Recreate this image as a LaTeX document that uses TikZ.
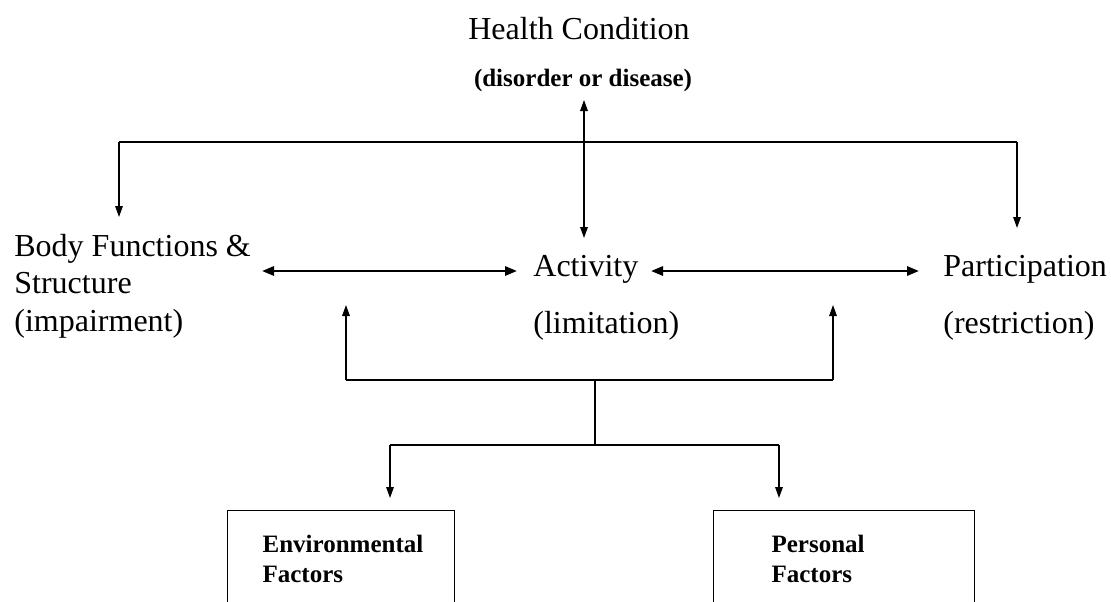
\documentclass[tikz,border=0pt]{standalone}
\usepackage{fontspec}
\setmainfont{Liberation Serif}
\usetikzlibrary{arrows.meta}
\begin{document}
\begin{tikzpicture}[x=0.5pt,y=-0.5pt,
  lbl/.style={inner sep=0pt, font=\fontsize{16}{18.5}\selectfont},
  sublbl/.style={inner sep=0pt, font=\fontsize{12.5}{15}\selectfont\bfseries},
  factorbox/.style={draw, line width=0.6pt, anchor=north west, align=left,
    inner ysep=12.5pt, font=\fontsize{12.5}{15}\selectfont\bfseries},
  conn/.style={line width=0.6pt},
  tip/.style={-{Triangle[length=5.5pt,width=3.8pt]}},
  dtip/.style={{Triangle[length=5.5pt,width=3.8pt]}-{Triangle[length=5.5pt,width=3.8pt]}},
  dtipb/.style={line width=1.2pt,{Triangle[length=6pt,width=4.6pt]}-{Triangle[length=6pt,width=4.6pt]}}]
\useasboundingbox (0,0) rectangle (1111,601);
\clip (0,0) rectangle (1111,601);

% labels
\node[lbl, anchor=base] (hc) at (579,39) {Health Condition};
\node[sublbl, anchor=base] (dis) at (583,86) {(disorder or disease)};
\node[lbl, anchor=base west, align=left] (body) at (14,331) {Body Functions \&\\Structure\\[0.5pt](impairment)};
\node[lbl, anchor=base west, align=left] (act) at (533,333) {Activity\\[10pt](limitation)};
\node[lbl, anchor=base west, align=left] (part) at (943,333) {Participation\\[10pt](restriction)};

% factor boxes (bottom cut off by the frame)
\node[factorbox, inner xsep=17.5pt, text width=78.5pt] (env) at (227,510) {Environmental\\Factors};
\node[factorbox, inner xsep=29pt, text width=72.5pt] (pers) at (713,510) {Personal\\Factors};

% coordinates
\coordinate (hcTip) at (584,100);
\coordinate (actTop) at (584,238);
\coordinate (barL) at (119,142);
\coordinate (barR) at (1017,142);
\coordinate (bodyTop) at (119,217);
\coordinate (partTop) at (1017,228);
\coordinate (bodyR) at (262,271);
\coordinate (actL) at (517,271);
\coordinate (actR) at (651,271);
\coordinate (partL) at (919,271);
\coordinate (upL) at (346,305);
\coordinate (upR) at (833,305);
\coordinate (midL) at (346,380);
\coordinate (midR) at (833,380);
\coordinate (midC) at (595,380);
\coordinate (lowC) at (595,445);
\coordinate (lowL) at (390,445);
\coordinate (lowR) at (779,445);
\coordinate (envTop) at (390,498);
\coordinate (persTop) at (779,498);

% connectors
\draw[conn, dtip] (hcTip) -- (actTop);
\draw[conn] (barL) -- (barR);
\draw[conn, tip] (barL) -- (bodyTop);
\draw[conn, tip] (barR) -- (partTop);
\draw[dtipb] (bodyR) -- (actL);
\draw[dtipb] (actR) -- (partL);
\draw[conn, tip] (midL) -- (upL);
\draw[conn, tip] (midR) -- (upR);
\draw[conn] (midL) -- (midR);
\draw[conn] (midC) -- (lowC);
\draw[conn] (lowL) -- (lowR);
\draw[conn, tip] (lowL) -- (envTop);
\draw[conn, tip] (lowR) -- (persTop);
\end{tikzpicture}
\end{document}
